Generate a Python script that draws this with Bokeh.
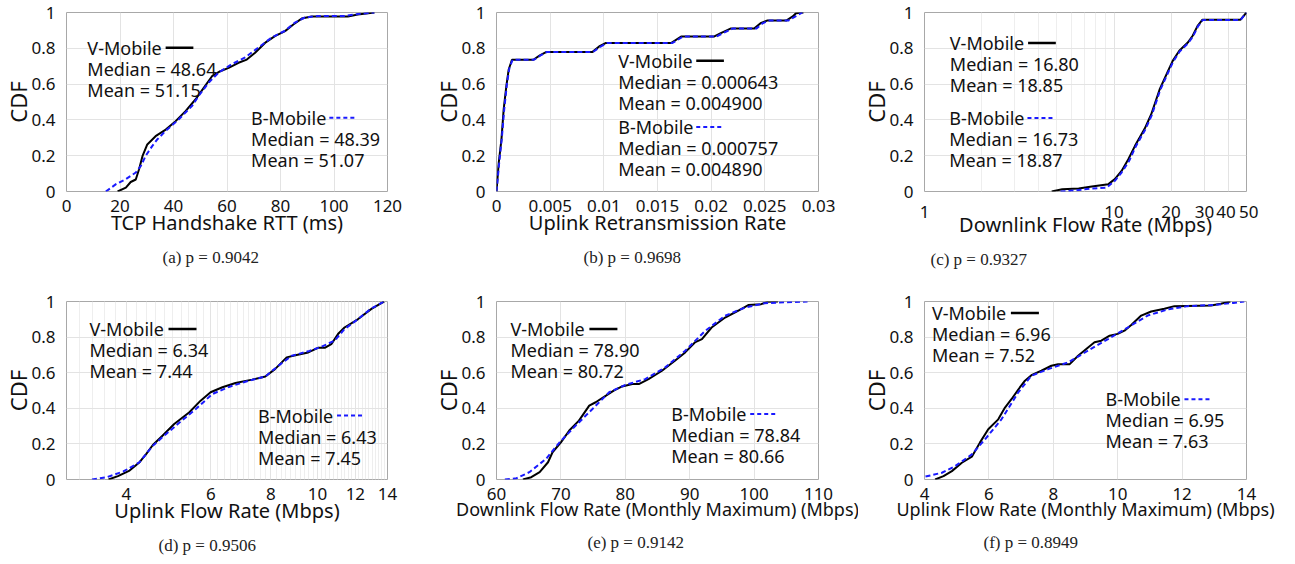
import numpy as np
from bokeh.plotting import figure
from bokeh.models import Range1d, FixedTicker, Label, Title
from bokeh.layouts import gridplot
from bokeh.embed import file_html
from bokeh.resources import INLINE

# ---------------- data ----------------
cdf_ticks = [0, 0.2, 0.4, 0.6, 0.8, 1.0]
cdf_labels = ["0", "0.2", "0.4", "0.6", "0.8", "1"]

# (a) TCP handshake RTT
a_v_x = [19.1, 22.2, 24.0, 25.9, 27.1, 28.4, 30.2, 33.3, 37.1, 40.8, 44.5, 48.2, 51.3, 54.4, 57.5,
         60.6, 64.3, 67.4, 70.5, 74.2, 77.9, 81.7, 84.8, 87.9, 91.6, 99.0, 105.2, 108.9, 115.1]
a_v_y = [0.0, 0.022, 0.053, 0.067, 0.123, 0.197, 0.263, 0.309, 0.346, 0.393, 0.449, 0.514, 0.579, 0.644,
         0.672, 0.691, 0.719, 0.737, 0.775, 0.830, 0.868, 0.896, 0.933, 0.966, 0.978, 0.978, 0.978, 0.989, 1.0]
a_b_x = [14.7, 18.5, 22.2, 25.9, 27.8, 29.6, 32.1, 34.0, 37.1, 42.0, 47.0, 49.4, 53.2, 56.9, 61.8, 66.8,
         71.7, 76.7, 81.7, 85.4, 89.1, 94.0, 104.0, 108.9, 115.1]
a_b_y = [0.0, 0.041, 0.069, 0.106, 0.143, 0.199, 0.255, 0.292, 0.339, 0.404, 0.479, 0.534, 0.609, 0.665,
         0.711, 0.749, 0.804, 0.860, 0.898, 0.944, 0.972, 0.981, 0.981, 0.991, 1.0]
a_ticks = [0, 20, 40, 60, 80, 100, 120]
a_tick_labels = ["0", "20", "40", "60", "80", "100", "120"]

# (b) uplink retransmission rate
b_v_x = [0.0, 0.00021, 0.00046, 0.00067, 0.00092, 0.00113, 0.00144, 0.00343, 0.00404, 0.00466, 0.00895,
         0.00956, 0.0102, 0.0163, 0.0172, 0.0203, 0.0209, 0.0218, 0.0240, 0.0246, 0.0252, 0.0270, 0.0276,
         0.0279, 0.0286]
b_v_y = [0.0, 0.162, 0.29, 0.46, 0.59, 0.68, 0.736, 0.736, 0.76, 0.78, 0.78, 0.81, 0.83, 0.83, 0.866,
         0.866, 0.885, 0.91, 0.91, 0.94, 0.955, 0.955, 0.978, 0.996, 1.0]
b_b_x = [0.0, 0.00025, 0.0005, 0.00072, 0.00097, 0.0012, 0.0015, 0.0035, 0.0041, 0.0047, 0.0090, 0.0097,
         0.0103, 0.0164, 0.0174, 0.0205, 0.0212, 0.0220, 0.0242, 0.0248, 0.0254, 0.0272, 0.0279, 0.0285]
b_b_y = [0.0, 0.16, 0.30, 0.46, 0.60, 0.69, 0.736, 0.736, 0.76, 0.78, 0.78, 0.81, 0.83, 0.83, 0.866,
         0.866, 0.888, 0.91, 0.91, 0.94, 0.955, 0.955, 0.98, 1.0]
b_ticks = [0, 0.005, 0.01, 0.015, 0.02, 0.025, 0.03]
b_tick_labels = ["0", "0.005", "0.01", "0.015", "0.02", "0.025", "0.03"]

# (c) downlink flow rate (log x)
c_v_x = [4.69, 5.33, 6.51, 7.64, 9.34, 10.1, 10.96, 11.9, 12.9, 14.5, 15.7, 17.4, 19.2, 20.4, 22.1,
         24.5, 26.0, 27.6, 29.3, 46.5, 50.0]
c_v_y = [0.0, 0.013, 0.017, 0.028, 0.041, 0.069, 0.115, 0.18, 0.255, 0.35, 0.43, 0.57, 0.67, 0.73,
         0.786, 0.832, 0.87, 0.925, 0.96, 0.96, 1.0]
c_b_x = [5.22, 6.25, 7.64, 9.16, 10.1, 10.96, 12.0, 13.0, 14.6, 15.8, 17.5, 19.3, 20.5, 22.2, 24.6,
         26.1, 27.7, 29.4, 46.5, 50.0]
c_b_y = [0.0, 0.006, 0.017, 0.022, 0.06, 0.106, 0.17, 0.25, 0.345, 0.425, 0.565, 0.665, 0.725, 0.782,
         0.828, 0.866, 0.922, 0.958, 0.958, 1.0]
c_ticks = [1, 10, 20, 30, 40, 50]
c_tick_labels = ["1", "10", "20", "30", "40\u00a0", "\u00a050"]
c_minor = [2, 3, 4, 5, 6, 7, 8, 9]

# (d) uplink flow rate (log x)
d_v_x = [3.67, 3.84, 4.06, 4.26, 4.40, 4.54, 4.76, 5.03, 5.41, 5.71, 5.99, 6.34, 6.75, 7.31, 7.79, 8.16,
         8.63, 9.05, 9.57, 10.03, 10.36, 10.69, 11.04, 11.39, 12.14, 12.94, 13.56, 13.78]
d_v_y = [0.0, 0.019, 0.05, 0.097, 0.144, 0.194, 0.247, 0.312, 0.378, 0.443, 0.49, 0.518, 0.542, 0.561,
         0.579, 0.62, 0.686, 0.699, 0.714, 0.74, 0.74, 0.76, 0.817, 0.854, 0.90, 0.957, 0.99, 1.0]
d_b_x = [3.39, 3.64, 3.94, 4.26, 4.54, 4.84, 5.16, 5.58, 6.04, 6.54, 7.19, 7.79, 8.30, 8.84, 9.57, 10.2,
         10.86, 11.39, 12.14, 12.94, 13.78]
d_b_y = [0.0, 0.013, 0.045, 0.097, 0.19, 0.256, 0.32, 0.396, 0.48, 0.52, 0.555, 0.579, 0.64, 0.695,
         0.72, 0.746, 0.78, 0.845, 0.9, 0.96, 1.0]
d_ticks = [4, 6, 8, 10, 12, 14]
d_tick_labels = ["4", "6", "8", "10", "12", "14"]

# (e) downlink flow rate (monthly maximum)
e_v_x = [64.1, 65.4, 66.7, 68.0, 68.7, 70.0, 71.3, 72.8, 74.4, 75.4, 77.0, 78.2, 79.5, 81.1, 82.1, 83.6,
         85.7, 87.7, 89.3, 90.8, 91.9, 93.4, 95.5, 97.5, 99.1, 101.1, 102.1, 103.7]
e_v_y = [0.0, 0.013, 0.041, 0.097, 0.153, 0.209, 0.275, 0.331, 0.415, 0.434, 0.471, 0.499, 0.523, 0.536,
         0.536, 0.564, 0.611, 0.667, 0.714, 0.77, 0.789, 0.854, 0.91, 0.948, 0.98, 0.985, 0.998, 1.0]
e_b_x = [61.3, 63.1, 65.1, 67.7, 69.8, 72.3, 74.9, 77.5, 80.0, 83.1, 86.2, 89.3, 92.4, 95.5, 98.6,
         101.6, 104.7, 108.3]
e_b_y = [0.0, 0.007, 0.041, 0.116, 0.209, 0.303, 0.396, 0.49, 0.531, 0.564, 0.63, 0.723, 0.835, 0.92,
         0.966, 0.99, 0.996, 1.0]
e_ticks = [60, 70, 80, 90, 100, 110]
e_tick_labels = ["60", "70", "80", "90", "100", "110"]

# (f) uplink flow rate (monthly maximum)
f_v_x = [4.33, 4.59, 4.85, 5.16, 5.47, 5.72, 5.98, 6.29, 6.50, 6.70, 6.96, 7.12, 7.32, 7.63, 7.94, 8.15,
         8.51, 8.77, 9.08, 9.28, 9.49, 9.75, 10.0, 10.21, 10.42, 10.73, 11.04, 11.45, 11.76, 12.9, 13.2, 13.5]
f_v_y = [0.0, 0.019, 0.047, 0.094, 0.128, 0.207, 0.282, 0.338, 0.404, 0.451, 0.517, 0.555, 0.586, 0.611,
         0.639, 0.648, 0.648, 0.695, 0.742, 0.771, 0.78, 0.808, 0.818, 0.836, 0.868, 0.921, 0.944, 0.959,
         0.974, 0.977, 0.987, 1.0]
f_b_x = [3.8, 4.0, 4.54, 4.95, 5.47, 5.88, 6.39, 6.91, 7.32, 7.84, 8.46, 9.08, 9.70, 10.32, 10.93, 11.55,
         12.17, 12.99, 13.6, 13.93]
f_b_y = [0.0, 0.015, 0.038, 0.075, 0.141, 0.226, 0.338, 0.489, 0.583, 0.62, 0.658, 0.724, 0.789, 0.855,
         0.921, 0.955, 0.974, 0.981, 0.992, 1.0]
f_ticks = [4, 6, 8, 10, 12, 14]
f_tick_labels = ["4", "6", "8", "10", "12", "14"]

v_stats = [("48.64", "51.15"), ("0.000643", "0.004900"), ("16.80", "18.85"),
           ("6.34", "7.44"), ("78.90", "80.72"), ("6.96", "7.52")]
b_stats = [("48.39", "51.07"), ("0.000757", "0.004890"), ("16.73", "18.87"),
           ("6.43", "7.45"), ("78.84", "80.66"), ("6.95", "7.63")]
x_titles = ["TCP Handshake RTT (ms)", "Uplink Retransmission Rate", "Downlink Flow Rate (Mbps)",
            "Uplink Flow Rate (Mbps)", "Downlink Flow Rate (Monthly Maximum) (Mbps)",
            "Uplink Flow Rate (Monthly Maximum) (Mbps)"]
cap_tags = ["(a)", "(b)", "(c)", "(d)", "(e)", "(f)"]
p_values = ["0.9042", "0.9698", "0.9327", "0.9506", "0.9142", "0.8949"]

# ---------------- layout / style ----------------
FONT = "Noto Sans"
SERIF = "Liberation Serif"
GRID = "#e3e3e3"
FRAME = "#a8a8a8"
BLUE = "#1a1aff"
LEFT = 66

panels = [
    dict(vx=a_v_x, vy=a_v_y, bx=a_b_x, by=a_b_y, xr=(0, 120), log=False, ticks=a_ticks, tl=a_tick_labels,
         minor=None, w=430, right=40, row=0, xl="20px", xls=-6, va=(7.8, 0.803), ba=(69.0, 0.412), cap=96),
    dict(vx=b_v_x, vy=b_v_y, bx=b_b_x, by=b_b_y, xr=(0, 0.03), log=False, ticks=b_ticks, tl=b_tick_labels,
         minor=None, w=428, right=36, row=0, xl="20px", xls=-6, va=(0.01134, 0.73), ba=(0.01134, 0.361), cap=87),
    dict(vx=c_v_x, vy=c_v_y, bx=c_b_x, by=c_b_y, xr=(1, 50), log=True, ticks=c_ticks, tl=c_tick_labels,
         minor=c_minor, w=436, right=45, row=0, xl="20px", xls=-15, va=(1.36, 0.829), ba=(1.35, 0.41), cap=6),
    dict(vx=d_v_x, vy=d_v_y, bx=d_b_x, by=d_b_y, xr=(3, 14), log=True, ticks=d_ticks, tl=d_tick_labels,
         minor=[round(3 + 0.2 * i, 1) for i in range(56)], w=430, right=43, row=1, xl="20px", xls=-6,
         va=(3.35, 0.845), ba=(7.52, 0.359), cap=92),
    dict(vx=e_v_x, vy=e_v_y, bx=e_b_x, by=e_b_y, xr=(60, 110), log=False, ticks=e_ticks, tl=e_tick_labels,
         minor=None, w=428, right=40, row=1, xl="18px", xls=-6, va=(62.16, 0.845), ba=(87.13, 0.368), cap=91),
    dict(vx=f_v_x, vy=f_v_y, bx=f_b_x, by=f_b_y, xr=(4, 14), log=False, ticks=f_ticks, tl=f_tick_labels,
         minor=None, w=436, right=48, row=1, xl="18px", xls=-6, va=(4.23, 0.936), ba=(9.62, 0.451), cap=59),
]
ROWS = [dict(h=286, top=12, bottom=95), dict(h=276, top=15, bottom=82)]
LINE_STEP = 21


def shift_x(x, px, xr, fw, log):
    if log:
        return 10 ** (np.log10(x) + px * (np.log10(xr[1]) - np.log10(xr[0])) / fw)
    return x + px * (xr[1] - xr[0]) / fw


figs = []
for i, P in enumerate(panels):
    R = ROWS[P["row"]]
    fw = P["w"] - LEFT - P["right"]
    p = figure(width=P["w"], height=R["h"], output_backend="svg", toolbar_location=None,
               x_range=Range1d(*P["xr"]), y_range=Range1d(0, 1),
               x_axis_type="log" if P["log"] else "linear",
               x_axis_label=x_titles[i], y_axis_label="CDF",
               min_border_left=LEFT, min_border_right=P["right"],
               min_border_top=R["top"], min_border_bottom=R["bottom"])
    p.outline_line_color = FRAME
    p.outline_line_width = 1
    p.background_fill_color = "white"
    p.border_fill_color = "white"

    p.xaxis.ticker = FixedTicker(ticks=P["ticks"], minor_ticks=P["minor"] or [])
    p.xaxis.major_label_overrides = {t: l for t, l in zip(P["ticks"], P["tl"])}
    p.yaxis.ticker = FixedTicker(ticks=cdf_ticks)
    p.yaxis.major_label_overrides = {t: l for t, l in zip(cdf_ticks, cdf_labels)}

    for ax in (p.xaxis[0], p.yaxis[0]):
        ax.axis_line_color = None
        ax.major_tick_line_color = None
        ax.minor_tick_line_color = None
        ax.major_label_text_font = FONT
        ax.major_label_text_font_size = "17px"
        ax.major_label_text_color = "#111111"
        ax.axis_label_text_font = FONT
        ax.axis_label_text_font_style = "normal"
        ax.axis_label_text_color = "#111111"
    p.xaxis.major_label_standoff = 2
    p.xaxis.axis_label_standoff = P["xls"]
    p.xaxis.axis_label_text_font_size = P["xl"]
    p.yaxis.major_label_standoff = 5
    p.yaxis.axis_label_standoff = -5
    p.yaxis.axis_label_text_font_size = "22px"

    p.xgrid.grid_line_color = GRID
    p.ygrid.grid_line_color = GRID
    if P["minor"]:
        p.xgrid.minor_grid_line_color = "#eeeeee"

    p.line(P["vx"], P["vy"], line_color="black", line_width=2)
    p.line(P["bx"], P["by"], line_color=BLUE, line_width=2, line_dash="5 3")

    for (ax_, ay_), name, stats, col, dash in [
            (P["va"], "V-Mobile", v_stats[i], "black", "solid"),
            (P["ba"], "B-Mobile", b_stats[i], BLUE, "4 3")]:
        lines = [name, "Median = " + stats[0], "Mean = " + stats[1]]
        for k, t in enumerate(lines):
            p.add_layout(Label(x=ax_, y=ay_, y_offset=-LINE_STEP * k, text=t,
                               text_font=FONT, text_font_size="18px", text_color="#111111",
                               text_baseline="middle", text_align="left"))
        x0 = shift_x(ax_, 79, P["xr"], fw, P["log"])
        x1 = shift_x(ax_, 107, P["xr"], fw, P["log"])
        p.segment(x0=[x0], y0=[ay_], x1=[x1], y1=[ay_], line_color=col,
                  line_width=2.5 if dash == "solid" else 2, line_dash=dash)

    # caption below the panel
    caption = cap_tags[i] + "  p = " + p_values[i]
    p.add_layout(Title(text=caption, align="left", offset=P["cap"], text_font=SERIF,
                       text_font_size="17px", text_font_style="normal", text_color="#222222",
                       standoff=15), "below")
    figs.append(p)

grid = gridplot([figs[0:3], figs[3:6]], toolbar_location=None)
open("out.html", "w").write(file_html(grid, INLINE))
